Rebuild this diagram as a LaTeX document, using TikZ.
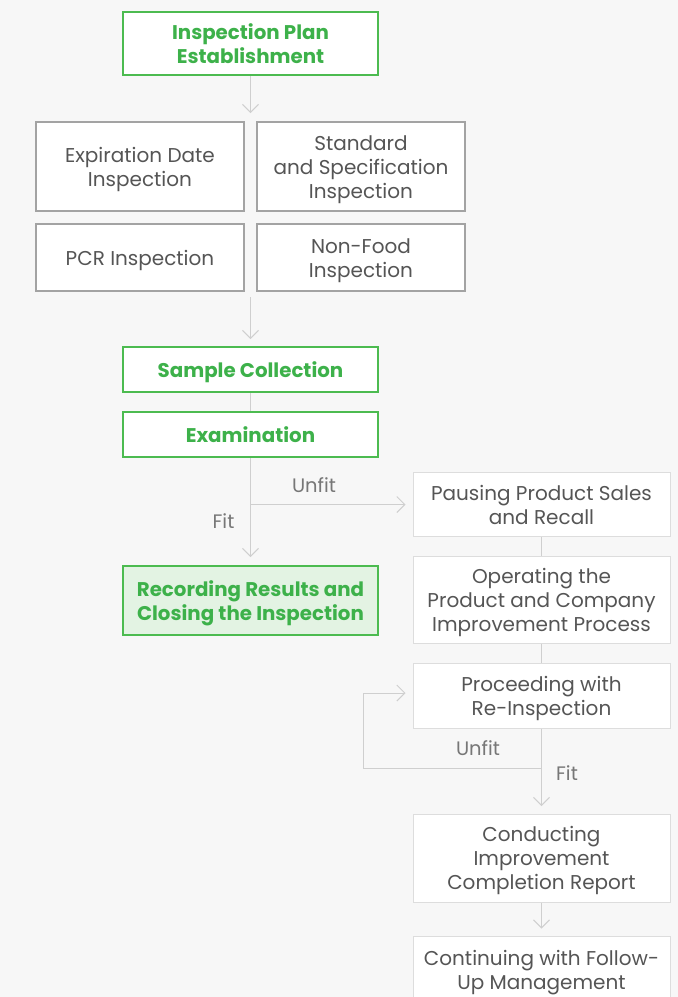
\documentclass[tikz,border=0pt]{standalone}
\usepackage{fontspec}
\setmainfont{Poppins}
\usetikzlibrary{arrows.meta}
\definecolor{bgcol}{HTML}{F7F7F7}
\definecolor{grn}{HTML}{4CBB50}
\definecolor{grntxt}{HTML}{3DB14A}
\definecolor{grnfill}{HTML}{E3F3E3}
\definecolor{txtcol}{HTML}{555555}
\definecolor{gbord}{HTML}{A3A3A3}
\definecolor{lbord}{HTML}{DDDDDD}
\definecolor{conncol}{HTML}{CFCFCF}
\definecolor{lblcol}{HTML}{777777}
\newcommand{\tstr}{\rule{0pt}{21pt}}
\newcommand{\bstr}{\rule[-5pt]{0pt}{5pt}}
\begin{document}
\begin{tikzpicture}[x=1pt,y=-1pt,
 base/.style={align=center, inner sep=0pt, font=\fontsize{20}{24}\selectfont, text=txtcol},
 greenbox/.style={base, draw=grn, line width=2pt, fill=white, text=grntxt, font=\fontsize{19.8}{24}\selectfont\bfseries, minimum width=255pt},
 graybox/.style={base, draw=gbord, line width=2pt, fill=white, minimum width=208pt},
 lightbox/.style={base, draw=lbord, line width=1pt, fill=white, minimum width=257pt},
 connline/.style={draw=conncol, line width=1pt},
 arr/.style={connline, -{Straight Barb[length=8pt,width=16pt]}},
 lbl/.style={font=\fontsize{19.5}{22}\selectfont, text=lblcol, inner sep=0pt}
]
\fill[bgcol] (0,0) rectangle (678,997);
\useasboundingbox (0,0) rectangle (678,997);

\node[greenbox, minimum height=63pt] (plan) at (250.5,43.5) {\tstr Inspection Plan\\Establishment\bstr};
\node[graybox, minimum height=89pt] (exp) at (140,166.5) {\tstr Expiration Date\\Inspection\bstr};
\node[graybox, minimum height=89pt] (std) at (361,166.5) {\tstr Standard\\and Specification\\Inspection\bstr};
\node[graybox, minimum height=67pt] (pcr) at (140,257.5) {\tstr PCR Inspection\bstr};
\node[graybox, minimum height=67pt] (nonfood) at (361,257.5) {\tstr Non-Food\\Inspection\bstr};
\node[greenbox, minimum height=45pt] (sample) at (250.5,369.5) {\tstr Sample Collection\bstr};
\node[greenbox, minimum height=45pt] (exam) at (250.5,434.5) {\tstr Examination\bstr};
\node[greenbox, fill=grnfill, minimum height=69pt] (rec) at (250.5,600.5) {\tstr Recording Results and\\Closing the Inspection\bstr};

\node[lightbox, minimum height=64pt] (pause) at (541.5,504.5) {\tstr Pausing Product Sales\\and Recall\bstr};
\node[lightbox, minimum height=87pt] (oper) at (541.5,599.5) {\tstr Operating the\\Product and Company\\Improvement Process\bstr};
\node[lightbox, minimum height=65pt] (reinsp) at (541.5,695.5) {\tstr Proceeding with\\Re-Inspection\bstr};
\node[lightbox, minimum height=88pt] (conduct) at (541.5,858) {\tstr Conducting\\Improvement\\Completion Report\bstr};
\node[lightbox, minimum height=68pt] (cont) at (541.5,970) {\tstr Continuing with Follow-\\Up Management\bstr};

% connectors
\coordinate (a1) at (250.5,113);
\draw[arr] (plan.south) -- (a1);
\coordinate (a2s) at (250.5,297);
\coordinate (a2e) at (250.5,339);
\draw[arr] (a2s) -- (a2e);
\draw[connline] (sample) -- (exam);
\coordinate (fitend) at (250.5,557);
\draw[arr] (exam.south) -- (fitend);
\coordinate (br) at (250.5,504.5);
\coordinate (brend) at (405.5,504.5);
\draw[arr] (br) -- (brend);
\draw[connline] (pause) -- (oper);
\draw[connline] (oper) -- (reinsp);
\coordinate (fit2end) at (541.5,806);
\draw[arr] (reinsp.south) -- (fit2end);
\coordinate (lp) at (541.5,768);
\coordinate (lpc) at (363,693);
\coordinate (lpend) at (405.5,693);
\draw[arr] (lp) -| (lpc) -- (lpend);
\coordinate (a3) at (541.5,928.5);
\draw[arr] (conduct.south) -- (a3);

% labels
\node[lbl] (u1) at (314,485) {Unfit};
\node[lbl] (f1) at (223.5,521.5) {Fit};
\node[lbl] (u2) at (478,748.5) {Unfit};
\node[lbl] (f2) at (567,773.5) {Fit};
\end{tikzpicture}
\end{document}
